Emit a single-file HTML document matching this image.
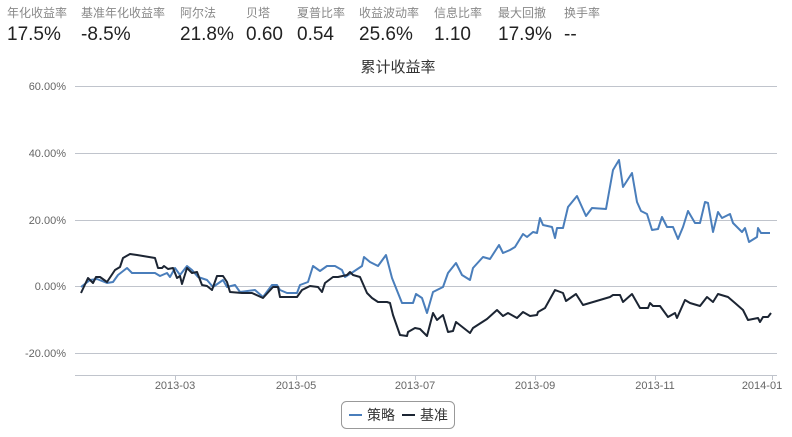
<!DOCTYPE html>
<html><head><meta charset="utf-8"><style>
body{margin:0;width:792px;height:437px;background:#fff;overflow:hidden;font-family:"Liberation Sans","Noto Sans CJK SC",sans-serif;}
.s{position:absolute;top:4px;}
.s .l{font-size:12px;color:#888;white-space:nowrap;}
.s .v{font-size:19px;color:#222;margin-top:3px;white-space:nowrap;}
</style></head><body>
<div class="s" style="left:7px"><div class="l">年化收益率</div><div class="v">17.5%</div></div>
<div class="s" style="left:81px"><div class="l">基准年化收益率</div><div class="v">-8.5%</div></div>
<div class="s" style="left:180px"><div class="l">阿尔法</div><div class="v">21.8%</div></div>
<div class="s" style="left:246px"><div class="l">贝塔</div><div class="v">0.60</div></div>
<div class="s" style="left:297px"><div class="l">夏普比率</div><div class="v">0.54</div></div>
<div class="s" style="left:359px"><div class="l">收益波动率</div><div class="v">25.6%</div></div>
<div class="s" style="left:434px"><div class="l">信息比率</div><div class="v">1.10</div></div>
<div class="s" style="left:498px"><div class="l">最大回撤</div><div class="v">17.9%</div></div>
<div class="s" style="left:564px"><div class="l">换手率</div><div class="v">--</div></div>
<svg width="792" height="437" style="position:absolute;left:0;top:0" font-family="Liberation Sans, Noto Sans CJK SC, sans-serif">
<text x="398" y="72" font-size="15" fill="#333" text-anchor="middle">累计收益率</text>
<g stroke="#c0c4cc" stroke-width="1">
<line x1="75" y1="86.5" x2="777" y2="86.5"/><line x1="75" y1="153.5" x2="777" y2="153.5"/><line x1="75" y1="220.5" x2="777" y2="220.5"/><line x1="75" y1="286.5" x2="777" y2="286.5"/><line x1="75" y1="353.5" x2="777" y2="353.5"/>
<line x1="75" y1="375.5" x2="777" y2="375.5"/>
<line x1="175.5" y1="375" x2="175.5" y2="380"/><line x1="296.5" y1="375" x2="296.5" y2="380"/><line x1="415.5" y1="375" x2="415.5" y2="380"/><line x1="535.5" y1="375" x2="535.5" y2="380"/><line x1="655.5" y1="375" x2="655.5" y2="380"/><line x1="772.5" y1="375" x2="772.5" y2="380"/>
</g>
<g font-size="11" fill="#666" text-anchor="end">
<text x="66" y="90">60.00%</text><text x="66" y="157">40.00%</text><text x="66" y="224">20.00%</text><text x="66" y="290">0.00%</text><text x="66" y="357">-20.00%</text>
</g>
<g font-size="11" fill="#666" text-anchor="middle">
<text x="175" y="389">2013-03</text><text x="296" y="389">2013-05</text><text x="415" y="389">2013-07</text><text x="535" y="389">2013-09</text><text x="655" y="389">2013-11</text><text x="762" y="389">2014-01</text>
</g>
<polyline fill="none" stroke="#4a7ebb" stroke-width="2" stroke-linejoin="round" points="81,287 90,280 97,279 107,283 113,282 118,275 127,268 132,273 155,273 160,276 167,273 170,277 175,268 180,275 187,266 192,270 198,277 207,280 213,287 223,280 227,287 235,285 240,292 255,290 263,297 272,285 277,285 280,290 287,293 297,293 300,285 308,282 313,266 320,271 327,266 335,266 342,270 345,277 353,272 362,266 364,257 370,262 378,266 386,255 392,278 402,303 407,303 413,303 416,294 422,298 427,313 433,292 443,287 448,273 456,263 462,275 470,280 473,268 483,257 490,259 499,245 503,253 510,250 515,247 523,234 527,237 533,232 537,233 540,218 543,225 552,227 555,238 557,228 563,228 568,207 577,196 586,216 592,208 606,209 613,170 619,160 623,187 632,173 637,202 641,211 647,214 652,230 658,229 662,217 667,227 673,227 678,239 683,227 688,211 695,223 700,223 705,202 708,203 713,232 718,212 722,218 730,214 733,223 742,232 745,228 749,242 757,237 758,228 761,233 767,233 770,233"/>
<polyline fill="none" stroke="#1c2533" stroke-width="2" stroke-linejoin="round" points="81,293 88,278 93,283 96,277 100,277 107,282 115,270 120,267 123,258 130,254 137,255 155,258 158,268 162,268 164,266 168,269 173,268 177,278 180,276 182,284 187,268 192,273 197,272 202,285 207,286 212,290 217,276 223,276 227,282 230,292 242,293 252,293 263,298 273,287 278,287 280,297 287,297 297,297 302,290 310,286 318,287 322,292 325,283 333,277 338,277 347,275 350,272 353,275 360,277 367,293 372,298 378,302 387,302 390,303 393,315 400,335 407,336 408,332 415,328 420,329 427,336 433,313 437,320 443,315 448,332 453,331 456,322 470,333 473,328 487,319 497,310 503,316 508,313 517,318 523,312 530,316 537,315 538,312 545,308 555,290 563,293 566,301 576,294 583,305 610,297 613,295 620,295 623,302 632,294 640,308 648,308 650,303 653,306 660,306 668,317 675,313 677,318 685,300 690,303 700,306 707,297 713,302 718,294 728,297 735,303 743,310 748,320 758,318 760,322 763,317 768,317 771,313"/>
<rect x="341.5" y="401.5" width="113" height="27" rx="5" fill="#fff" stroke="#999"/>
<line x1="349" y1="415" x2="362" y2="415" stroke="#4a7ebb" stroke-width="2"/>
<text x="367" y="420" font-size="14" fill="#333">策略</text>
<line x1="402" y1="415" x2="415" y2="415" stroke="#1c2533" stroke-width="2"/>
<text x="420" y="420" font-size="14" fill="#333">基准</text>
</svg>
</body></html>
